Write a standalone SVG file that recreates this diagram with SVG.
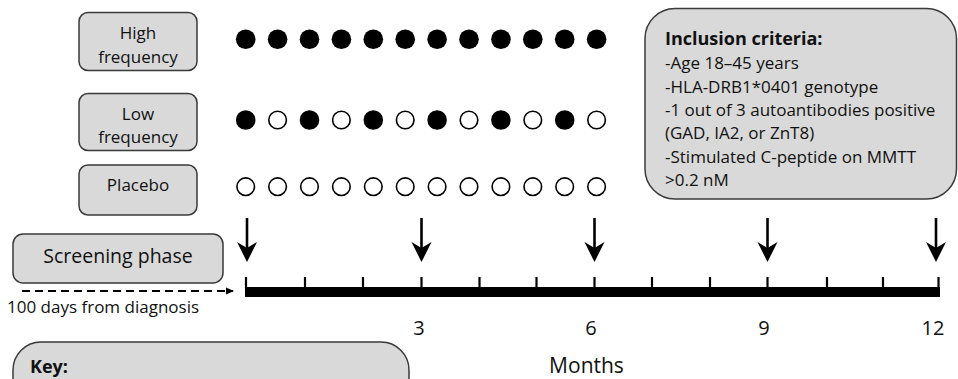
<svg xmlns="http://www.w3.org/2000/svg" width="958" height="379" viewBox="0 0 958 379">
  <style>
    .box { fill: #d9d9d9; stroke: #3a3a3a; stroke-width: 1.5; }
    .t { font-family: "Open Sans", "Liberation Sans", sans-serif; fill: #111; }
    .lbl { font-size: 17px; text-anchor: middle; }
    .body { font-size: 17px; }
    .hdr { font-size: 18px; font-weight: bold; }
    .num { font-size: 20px; text-anchor: middle; }
    .on { fill: #000; }
    .off { fill: #fff; stroke: #000; stroke-width: 1.6; }
    .tick { stroke: #000; stroke-width: 2.2; }
    .shaft { stroke: #000; stroke-width: 2.6; }
  </style>
  <defs>
    <marker id="tri" markerWidth="8" markerHeight="8" refX="7" refY="4" orient="auto" markerUnits="userSpaceOnUse">
      <path d="M0,0.5 L8,4 L0,7.5 Z" fill="#000"/>
    </marker>
    <path id="head" d="M0,0 L-10,-20 L0,-14 L10,-20 Z" fill="#000"/>
    <circle id="dot-on" r="9.8" class="on"/>
    <circle id="dot-off" r="8.8" class="off"/>
  </defs>

  <!-- arm labels -->
  <g id="high-frequency">
    <rect class="box" x="79" y="12.5" width="118" height="58" rx="9"/>
    <text class="t lbl" x="138" y="39">High</text>
    <text class="t lbl" x="138" y="63">frequency</text>
  </g>
  <g id="low-frequency">
    <rect class="box" x="79" y="93.5" width="118" height="57" rx="9"/>
    <text class="t lbl" x="138" y="119.5">Low</text>
    <text class="t lbl" x="138" y="143">frequency</text>
  </g>
  <g id="placebo">
    <rect class="box" x="79" y="165" width="118" height="50" rx="9"/>
    <text class="t lbl" x="138" y="191">Placebo</text>
  </g>

  <!-- dosing schedule: one dot per month -->
  <g id="dosing-high">
    <use href="#dot-on" x="245.7" y="39.3"/><use href="#dot-on" x="277.6" y="39.3"/>
    <use href="#dot-on" x="309.5" y="39.3"/><use href="#dot-on" x="341.4" y="39.3"/>
    <use href="#dot-on" x="373.3" y="39.3"/><use href="#dot-on" x="405.2" y="39.3"/>
    <use href="#dot-on" x="437.1" y="39.3"/><use href="#dot-on" x="469.0" y="39.3"/>
    <use href="#dot-on" x="500.9" y="39.3"/><use href="#dot-on" x="532.8" y="39.3"/>
    <use href="#dot-on" x="564.7" y="39.3"/><use href="#dot-on" x="596.6" y="39.3"/>
  </g>
  <g id="dosing-low">
    <use href="#dot-on" x="245.7" y="120"/><use href="#dot-off" x="277.6" y="120"/>
    <use href="#dot-on" x="309.5" y="120"/><use href="#dot-off" x="341.4" y="120"/>
    <use href="#dot-on" x="373.3" y="120"/><use href="#dot-off" x="405.2" y="120"/>
    <use href="#dot-on" x="437.1" y="120"/><use href="#dot-off" x="469.0" y="120"/>
    <use href="#dot-on" x="500.9" y="120"/><use href="#dot-off" x="532.8" y="120"/>
    <use href="#dot-on" x="564.7" y="120"/><use href="#dot-off" x="596.6" y="120"/>
  </g>
  <g id="dosing-placebo">
    <use href="#dot-off" x="245.7" y="186.7"/><use href="#dot-off" x="277.6" y="186.7"/>
    <use href="#dot-off" x="309.5" y="186.7"/><use href="#dot-off" x="341.4" y="186.7"/>
    <use href="#dot-off" x="373.3" y="186.7"/><use href="#dot-off" x="405.2" y="186.7"/>
    <use href="#dot-off" x="437.1" y="186.7"/><use href="#dot-off" x="469.0" y="186.7"/>
    <use href="#dot-off" x="500.9" y="186.7"/><use href="#dot-off" x="532.8" y="186.7"/>
    <use href="#dot-off" x="564.7" y="186.7"/><use href="#dot-off" x="596.6" y="186.7"/>
  </g>

  <!-- inclusion criteria -->
  <g id="inclusion-criteria">
    <rect class="box" x="645" y="8.5" width="311.5" height="190.5" rx="30"/>
    <text class="t hdr" x="665" y="45">Inclusion criteria:</text>
    <text class="t body" x="665" y="69">-Age 18–45 years</text>
    <text class="t body" x="665" y="92.5">-HLA-DRB1*0401 genotype</text>
    <text class="t body" x="665" y="116">-1 out of 3 autoantibodies positive</text>
    <text class="t body" x="665" y="139">(GAD, IA2, or ZnT8)</text>
    <text class="t body" x="665" y="162.5">-Stimulated C-peptide on MMTT</text>
    <text class="t body" x="665" y="186">&gt;0.2 nM</text>
  </g>

  <!-- screening -->
  <g id="screening-phase">
    <rect class="box" x="13" y="234" width="210" height="49" rx="10"/>
    <text class="t" x="118" y="262.5" font-size="19.5" text-anchor="middle">Screening phase</text>
  </g>
  <text class="t body" x="7" y="313">100 days from diagnosis</text>

  <!-- timeline -->
  <g id="timeline">
    <rect x="245" y="287" width="695" height="10" fill="#000"/>
    <line class="tick" x1="246" y1="277" x2="246" y2="288"/>
    <line class="tick" x1="305" y1="277" x2="305" y2="288"/>
    <line class="tick" x1="363" y1="277" x2="363" y2="288"/>
    <line class="tick" x1="421.5" y1="277" x2="421.5" y2="288"/>
    <line class="tick" x1="479.5" y1="277" x2="479.5" y2="288"/>
    <line class="tick" x1="536.5" y1="277" x2="536.5" y2="288"/>
    <line class="tick" x1="594.5" y1="277" x2="594.5" y2="288"/>
    <line class="tick" x1="652" y1="277" x2="652" y2="288"/>
    <line class="tick" x1="710" y1="277" x2="710" y2="288"/>
    <line class="tick" x1="767.5" y1="277" x2="767.5" y2="288"/>
    <line class="tick" x1="827" y1="277" x2="827" y2="288"/>
    <line class="tick" x1="883" y1="277" x2="883" y2="288"/>
    <line class="tick" x1="938.5" y1="277" x2="938.5" y2="288"/>
    <text class="t num" x="419" y="335">3</text>
    <text class="t num" x="591" y="335">6</text>
    <text class="t num" x="764" y="335">9</text>
    <text class="t num" x="933" y="335">12</text>
    <text class="t" x="586.5" y="373" font-size="21" text-anchor="middle">Months</text>
  </g>

  <!-- key -->
  <g id="key">
    <rect class="box" x="13" y="342" width="396" height="80" rx="28"/>
    <text class="t hdr" x="30" y="373">Key:</text>
  </g>

  <!-- connectors: visit arrows and screening lead-in -->
  <g id="connectors">
    <line x1="22" y1="291" x2="233" y2="291" stroke="#000" stroke-width="2" stroke-dasharray="8 5" marker-end="url(#tri)"/>
    <line class="shaft" x1="247" y1="218" x2="247" y2="250"/>
    <use href="#head" x="247" y="262"/>
    <line class="shaft" x1="421.5" y1="218" x2="421.5" y2="250"/>
    <use href="#head" x="421.5" y="262"/>
    <line class="shaft" x1="594.5" y1="218" x2="594.5" y2="250"/>
    <use href="#head" x="594.5" y="262"/>
    <line class="shaft" x1="767.5" y1="218" x2="767.5" y2="250"/>
    <use href="#head" x="767.5" y="262"/>
    <line class="shaft" x1="936" y1="218" x2="936" y2="250"/>
    <use href="#head" x="936" y="262"/>
  </g>
</svg>
